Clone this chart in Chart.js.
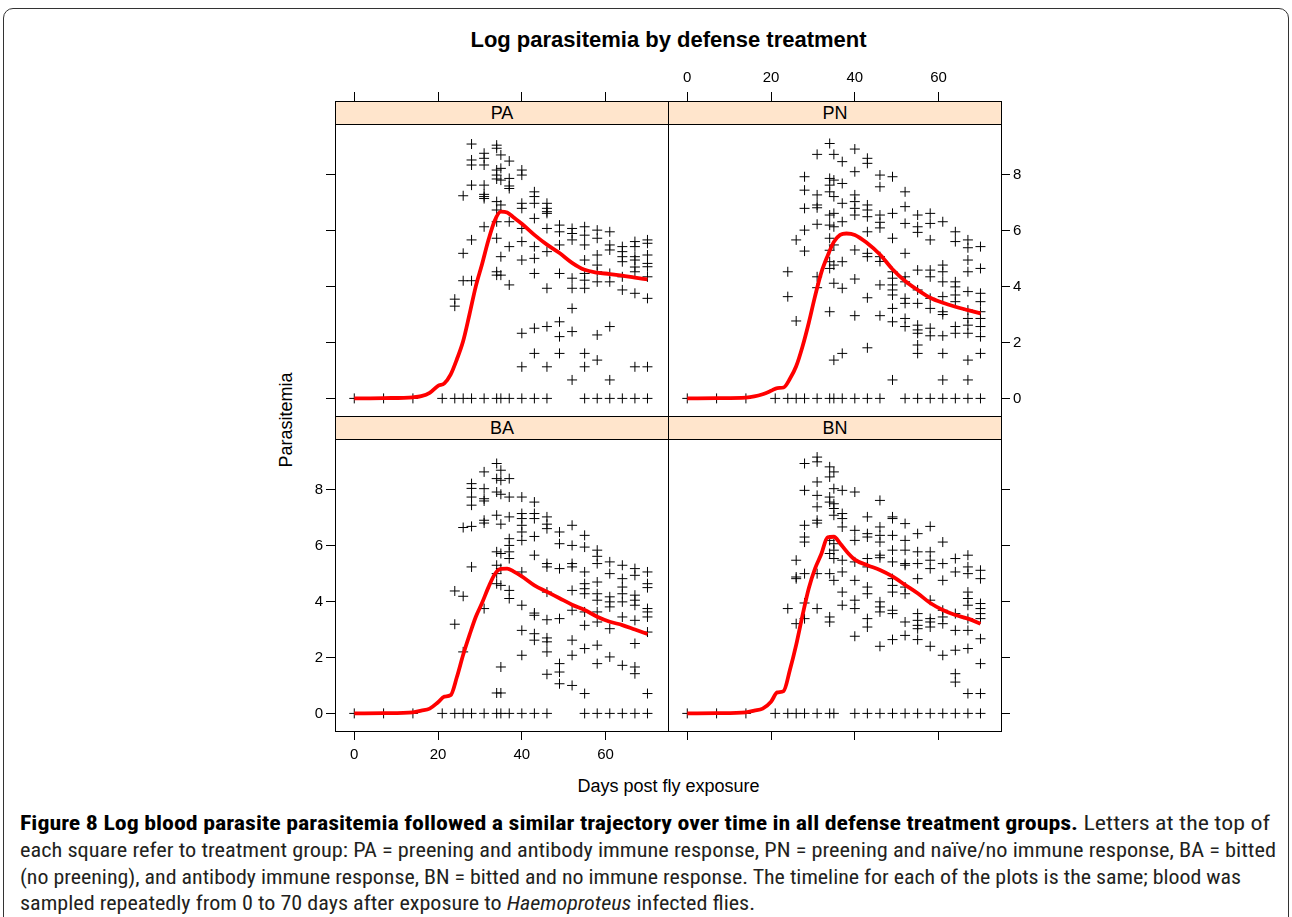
<!DOCTYPE html>
<html>
<head>
<meta charset="utf-8">
<script src="https://cdn.jsdelivr.net/npm/chart.js@4.4.0/dist/chart.umd.min.js"></script>
<style>
html,body{margin:0;padding:0;background:#fff;}
body{width:1292px;height:917px;position:relative;overflow:hidden;font-family:"Liberation Sans",Arial,sans-serif;color:#000;}
.frame{position:absolute;left:3px;top:8px;width:1284px;height:960px;border:1px solid #333;border-radius:10px;}
.title{position:absolute;left:335px;width:667px;top:27px;text-align:center;font-weight:bold;font-size:22px;line-height:26px;white-space:nowrap;}
canvas{position:absolute;}
.strip{position:absolute;background:#ffe5cc;border:1px solid #000;box-sizing:border-box;text-align:center;font-size:18px;line-height:22px;}
.ylab{position:absolute;left:286px;top:420px;transform:translate(-50%,-50%) rotate(-90deg);font-size:18px;white-space:nowrap;}
.xlab{position:absolute;left:335px;width:667px;top:775px;text-align:center;font-size:18px;line-height:22px;white-space:nowrap;}
.cap{position:absolute;left:20px;white-space:nowrap;font-family:"Liberation Sans Narrow","Roboto Condensed","Liberation Sans",Arial,sans-serif;font-size:20px;line-height:24px;color:#231f20;transform-origin:0 0;display:inline-block;}
.cap b{color:#000;}
</style>
</head>
<body>
<div class="frame"></div>
<div class="title">Log parasitemia by defense treatment</div>
<div class="ylab">Parasitemia</div>
<div class="xlab">Days post fly exposure</div>

<script>
// ---------------- DATA ----------------
const panelNames = ['PA', 'PN', 'BA', 'BN'];
const dayTicks = [0, 20, 40, 60];
const parasitemiaTicks = [0, 2, 4, 6, 8];
const sampleDays = [0, 7, 14, 21, 24, 26, 28, 31, 34, 35, 37, 40, 43, 46, 49, 52, 55, 58, 61, 64, 67, 70];

// observed log parasitemia, one list per sampling day (same order as sampleDays)
const paValues = [
  [0], [0], [0], [0],
  [0, 3.55, 3.30],
  [0, 7.25, 5.19, 4.21],
  [0, 9.10, 8.53, 8.35, 7.63, 5.67, 4.21],
  [0, 8.77, 8.59, 8.35, 7.63, 7.30, 7.22, 7.15, 6.14],
  [0, 9.06, 8.95, 8.17, 7.99, 7.85, 7.04, 6.74, 6.32, 5.73, 4.53, 4.41],
  [0, 8.71, 8.23, 7.81, 6.92, 5.07, 4.41],
  [0, 8.49, 7.87, 7.60, 7.51, 6.32, 5.43, 4.06],
  [0, 8.17, 7.99, 6.98, 6.80, 6.08, 5.61, 4.95, 2.33, 1.13],
  [0, 7.39, 7.22, 6.98, 6.44, 5.43, 5.01, 4.47, 2.51, 1.61],
  [0, 6.98, 6.80, 6.68, 6.62, 6.08, 5.25, 3.94, 2.57, 1.13],
  [6.20, 5.96, 5.49, 4.47, 2.74, 2.21, 1.61],
  [6.08, 5.90, 5.67, 4.30, 3.94, 3.22, 2.39, 0.66],
  [0, 6.14, 5.84, 5.49, 4.95, 4.47, 4.23, 3.94, 1.61, 1.13],
  [0, 6.02, 5.73, 5.13, 4.77, 4.53, 4.17, 2.27, 1.37],
  [0, 5.96, 5.49, 5.31, 4.47, 4.17, 2.57, 0.66],
  [0, 5.43, 5.25, 5.07, 4.89, 4.35, 3.88],
  [0, 5.61, 5.43, 5.07, 4.95, 4.70, 4.53, 3.76, 1.13],
  [0, 5.67, 5.55, 5.13, 4.83, 4.71, 4.35, 3.58, 1.13]
];
const pnValues = [
  [0], [0], [0], [0],
  [0, 4.53, 3.64],
  [0, 5.67, 2.77],
  [0, 7.93, 7.45, 6.80, 6.02, 5.27],
  [0, 8.73, 7.28, 6.92, 6.82, 6.23, 4.35, 3.96],
  [0, 9.12, 7.87, 7.63, 7.39, 6.56, 6.20, 5.73, 5.30, 4.89, 4.65, 3.10],
  [0, 8.73, 7.81, 7.22, 6.62, 6.14, 5.49, 4.77, 4.12, 1.37],
  [0, 8.47, 7.69, 6.98, 6.32, 4.89, 3.94, 1.61],
  [0, 8.92, 8.11, 7.28, 7.04, 6.80, 6.56, 5.31, 4.27, 2.96],
  [0, 8.59, 8.41, 6.92, 6.74, 6.50, 5.96, 5.19, 5.07, 3.60, 1.81],
  [0, 7.99, 7.57, 6.56, 6.30, 6.10, 5.07, 4.90, 4.06, 2.96],
  [7.93, 6.62, 5.73, 4.53, 4.30, 4.06, 3.88, 3.70, 3.22, 2.74, 0.66],
  [0, 7.39, 6.86, 6.26, 5.19, 4.35, 4.17, 3.58, 3.40, 2.86, 2.57],
  [0, 6.56, 6.14, 5.94, 4.59, 3.88, 3.40, 2.62, 2.45, 2.33, 1.91, 1.61],
  [0, 6.62, 6.26, 5.67, 4.59, 4.35, 3.58, 3.22, 2.51, 2.24],
  [0, 6.32, 4.77, 4.53, 4.17, 3.64, 3.10, 3.00, 2.24, 1.61, 0.66],
  [0, 5.96, 5.61, 4.17, 3.99, 3.70, 3.46, 2.57, 2.33],
  [0, 5.67, 5.39, 4.95, 4.53, 3.82, 3.16, 2.86, 2.62, 2.33, 1.37, 0.66],
  [0, 5.43, 4.65, 3.76, 3.46, 3.10, 2.86, 2.57, 2.21, 1.61]
];
const baValues = [
  [0], [0], [0], [0],
  [0, 4.38, 3.19],
  [0, 6.65, 4.19, 2.20],
  [0, 8.22, 8.05, 7.74, 7.45, 6.69, 5.24],
  [0, 8.64, 8.04, 7.68, 7.60, 6.91, 6.81, 3.75],
  [0, 8.94, 8.40, 7.92, 7.09, 5.78, 5.30, 5.00, 4.64, 0.73],
  [0, 8.70, 8.34, 7.84, 6.77, 5.72, 5.18, 4.58, 1.66, 0.73],
  [0, 8.40, 7.74, 7.03, 6.25, 6.01, 5.78, 5.54, 4.40, 4.11],
  [0, 7.74, 7.15, 6.97, 6.73, 6.49, 6.19, 5.06, 3.87, 2.97, 2.08],
  [0, 7.56, 7.15, 6.97, 6.33, 5.66, 3.59, 3.51, 2.85, 2.62],
  [0, 7.03, 6.77, 6.61, 5.36, 5.24, 4.34, 3.35, 2.70, 2.56, 2.20, 1.40],
  [6.49, 6.07, 5.18, 3.39, 1.78, 1.48, 1.06],
  [6.73, 6.01, 5.36, 5.24, 4.40, 3.69, 2.62, 2.08, 1.00],
  [0, 6.37, 5.95, 5.06, 4.64, 4.46, 4.28, 3.63, 3.15, 2.32, 0.71],
  [0, 5.84, 5.62, 5.36, 4.70, 4.28, 4.05, 3.63, 3.27, 2.44, 1.78],
  [0, 5.42, 5.00, 4.17, 3.99, 3.81, 3.03, 2.02],
  [0, 5.30, 4.82, 4.52, 4.28, 3.99, 3.45, 1.72],
  [0, 5.18, 4.94, 4.23, 4.05, 3.87, 3.33, 2.50, 1.66, 1.42],
  [0, 5.06, 4.64, 4.50, 3.75, 3.63, 3.45, 2.91, 0.71]
];
const bnValues = [
  [0], [0], [0], [0],
  [0, 3.75],
  [0, 5.48, 4.88, 4.82, 3.21],
  [0, 8.94, 7.98, 6.73, 6.31, 6.13, 5.00, 3.95, 3.39],
  [0, 9.17, 9.00, 8.28, 7.80, 7.39, 6.91, 6.81, 5.00, 3.75],
  [0, 8.82, 8.46, 7.74, 7.56, 6.19, 5.72, 5.00, 3.45, 3.27],
  [0, 8.64, 8.04, 7.50, 7.33, 7.09, 6.07, 5.84, 5.54, 4.76],
  [7.98, 7.15, 6.97, 6.67, 5.48, 5.06, 4.34, 3.87],
  [0, 7.92, 6.55, 6.19, 5.42, 4.76, 4.05, 3.75, 2.76],
  [0, 7.03, 6.43, 6.31, 5.54, 5.24, 4.52, 4.28, 3.39, 3.09],
  [0, 7.62, 6.67, 6.37, 6.13, 5.66, 5.57, 3.99, 3.81, 3.63, 2.40],
  [0, 7.03, 6.97, 6.37, 5.84, 5.42, 4.82, 4.58, 4.34, 3.69, 3.57, 2.64],
  [0, 6.79, 6.19, 5.84, 5.36, 5.30, 4.52, 4.28, 3.27, 2.79],
  [0, 6.43, 5.78, 5.36, 4.82, 3.57, 3.33, 3.15, 3.03, 2.64],
  [0, 6.69, 5.78, 5.48, 5.18, 4.05, 3.39, 3.27, 3.09, 2.40],
  [0, 6.13, 5.36, 4.76, 3.69, 3.45, 3.21, 2.08],
  [0, 5.54, 5.06, 3.57, 2.97, 2.26, 1.42, 1.12],
  [0, 5.66, 5.24, 5.00, 4.34, 4.11, 3.87, 3.39, 2.97, 2.32, 0.71],
  [0, 5.12, 4.82, 3.93, 3.75, 3.57, 3.39, 2.67, 1.78, 0.71]
];

// smoothed (loess) curves
const curveDays = [0, 7, 14, 16, 18, 20, 21.5, 23, 24.5, 26, 27.5, 29, 30.5, 32, 33.5, 35, 36.5, 38, 40, 43, 46, 49, 52, 55, 58, 61, 64, 67, 70];
const paCurve = [0, 0.01, 0.04, 0.08, 0.2, 0.45, 0.54, 0.85, 1.4, 2.05, 3.0, 4.0, 4.8, 5.65, 6.35, 6.68, 6.65, 6.48, 6.25, 5.85, 5.5, 5.2, 4.85, 4.6, 4.5, 4.45, 4.39, 4.32, 4.26];
const pnCurve = [0, 0.01, 0.03, 0.07, 0.15, 0.27, 0.37, 0.39, 0.7, 1.15, 1.85, 2.7, 3.65, 4.5, 5.1, 5.6, 5.85, 5.9, 5.85, 5.55, 5.15, 4.62, 4.2, 3.88, 3.6, 3.42, 3.28, 3.16, 3.04];
const baCurve = [0, 0.01, 0.04, 0.1, 0.17, 0.4, 0.6, 0.65, 1.3, 2.1, 2.8, 3.45, 3.95, 4.5, 4.97, 5.17, 5.18, 5.08, 4.9, 4.58, 4.35, 4.12, 3.89, 3.7, 3.46, 3.28, 3.16, 3.0, 2.84];
const bnCurve = [0, 0.01, 0.04, 0.1, 0.17, 0.42, 0.75, 0.8, 1.55, 2.45, 3.5, 4.47, 5.18, 5.7, 6.3, 6.32, 6.08, 5.8, 5.5, 5.3, 5.13, 4.9, 4.6, 4.3, 3.95, 3.7, 3.52, 3.39, 3.21];

// ---------------- LAYOUT ----------------
const X_MIN = -4.6, X_MAX = 74.9, Y_MIN = -0.63, Y_MAX = 10.64;
const PW = 333, PH = 315, M = 70, STRIP_H = 24;
const colLeft = [335, 668];
const rowTop = [101, 416];
const FONT = '"Liberation Sans", Arial, sans-serif';
Chart.defaults.font.family = FONT;

const panels = [
  {name: 'PA', vals: paValues, curve: paCurve, col: 0, row: 0, top: 'ticks', bottom: 'none', left: 'ticks', right: 'none'},
  {name: 'PN', vals: pnValues, curve: pnCurve, col: 1, row: 0, top: 'labels', bottom: 'none', left: 'none', right: 'labels'},
  {name: 'BA', vals: baValues, curve: baCurve, col: 0, row: 1, top: 'none', bottom: 'labels', left: 'labels', right: 'none'},
  {name: 'BN', vals: bnValues, curve: bnCurve, col: 1, row: 1, top: 'none', bottom: 'ticks', left: 'none', right: 'ticks'}
];

function axis(position, mode, isX, padding) {
  const tickVals = isX ? dayTicks : parasitemiaTicks;
  return {
    type: 'linear',
    position: position,
    min: isX ? X_MIN : Y_MIN,
    max: isX ? X_MAX : Y_MAX,
    grid: {display: mode !== 'none', drawOnChartArea: false, drawTicks: true, tickLength: 9, color: '#000', lineWidth: 1},
    border: {display: true, color: '#000', width: 1},
    ticks: {display: mode === 'labels', color: '#000', font: {family: FONT, size: 15}, padding: padding, maxRotation: 0, autoSkip: false},
    afterBuildTicks: s => { s.ticks = tickVals.map(v => ({value: v})); },
    afterFit: s => { if (s.isHorizontal()) s.height = M; else s.width = M; }
  };
}

panels.forEach(p => {
  const L = colLeft[p.col], T = rowTop[p.row];
  const cv = document.createElement('canvas');
  cv.width = PW + 2 * M; cv.height = PH + 2 * M;
  cv.style.left = (L - M) + 'px'; cv.style.top = (T - M) + 'px';
  cv.style.width = cv.width + 'px'; cv.style.height = cv.height + 'px';
  document.body.appendChild(cv);

  const pts = [];
  sampleDays.forEach((d, i) => p.vals[i].forEach(v => pts.push({x: d, y: v})));
  const curvePts = curveDays.map((d, i) => ({x: d, y: p.curve[i]}));

  new Chart(cv, {
    type: 'scatter',
    data: {
      datasets: [
        {type: 'line', data: curvePts, borderColor: '#ff0000', borderWidth: 3.8, pointRadius: 0,
         cubicInterpolationMode: 'monotone', fill: false, order: 0},
        {type: 'scatter', data: pts, pointStyle: 'cross', pointRadius: 5, borderColor: '#000',
         backgroundColor: '#000', borderWidth: 1, order: 1}
      ]
    },
    options: {
      responsive: false, animation: false, events: [],
      layout: {padding: 0},
      plugins: {legend: {display: false}, tooltip: {enabled: false}, title: {display: false}},
      scales: {
        x: axis('bottom', p.bottom, true, 6),
        xTop: axis('top', p.top, true, 5),
        y: axis('left', p.left, false, 3),
        yRight: axis('right', p.right, false, 3)
      }
    }
  });

  const st = document.createElement('div');
  st.className = 'strip';
  st.style.left = L + 'px'; st.style.top = T + 'px';
  st.style.width = (PW + 1) + 'px'; st.style.height = STRIP_H + 'px';
  st.textContent = p.name;
  document.body.appendChild(st);
});
</script>

<div class="cap" data-w="1250" style="top:811px"><b>Figure 8 Log blood parasite parasitemia followed a similar trajectory over time in all defense treatment groups.</b> Letters at the top of</div>
<div class="cap" data-w="1256" style="top:838px">each square refer to treatment group: PA = preening and antibody immune response, PN = preening and naïve/no immune response, BA = bitted</div>
<div class="cap" data-w="1221" style="top:865px">(no preening), and antibody immune response, BN = bitted and no immune response. The timeline for each of the plots is the same; blood was</div>
<div class="cap" data-w="735" style="top:891px">sampled repeatedly from 0 to 70 days after exposure to <i>Haemoproteus</i> infected flies.</div>
<script>
document.querySelectorAll('.cap').forEach(el => {
  const w = el.getBoundingClientRect().width;
  const target = parseFloat(el.dataset.w);
  el.style.transform = 'scaleX(' + (target / w) + ')';
});
</script>
</body>
</html>
